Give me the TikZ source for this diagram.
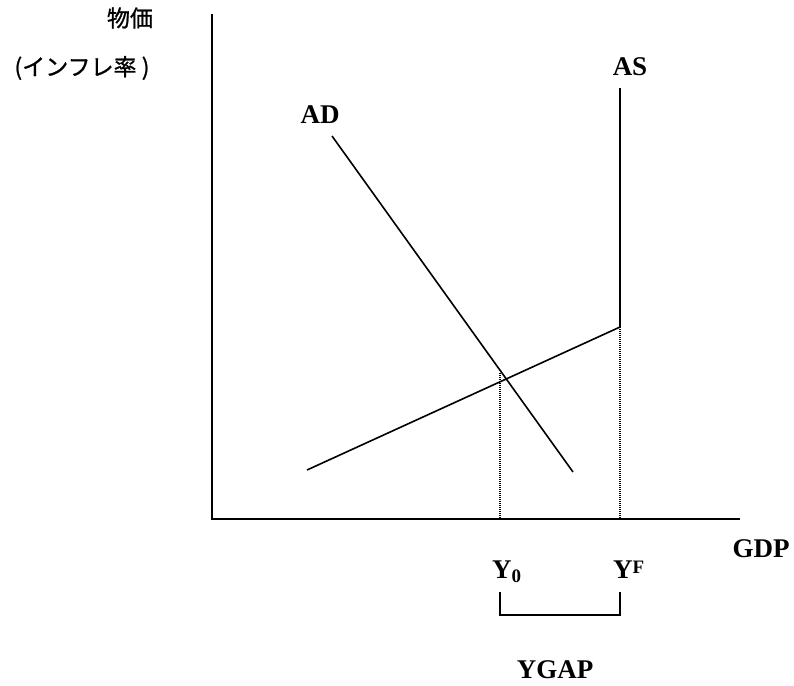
\documentclass[tikz,border=0pt]{standalone}
\usepackage{fontspec}
\setmainfont{Liberation Serif}
\newfontfamily\jpfont[FakeBold=1]{Noto Sans CJK JP}
\begin{document}
\begin{tikzpicture}[x=1pt,y=-1pt,
  axisline/.style={line width=2pt},
  curve/.style={line width=1.6pt},
  guide/.style={line width=1.2pt,dash pattern=on 1pt off 1pt},
  bracketline/.style={line width=1.7pt},
  lbl/.style={inner sep=0pt,font=\fontsize{27}{30}\selectfont\bfseries},
  jp/.style={inner sep=0pt,font=\fontsize{23}{26}\selectfont\jpfont}]
\useasboundingbox (0,0) rectangle (794,685);
% axes
\coordinate (ytop) at (212,14);
\coordinate (origin) at (212,519);
\coordinate (xend) at (740,519);
\draw[axisline] (ytop) -- (origin) -- (xend);
% AD curve
\coordinate (ad1) at (332,136);
\coordinate (ad2) at (573,472);
\draw[curve] (ad1) -- (ad2);
% AS curve
\coordinate (as1) at (307,470);
\coordinate (askink) at (620,327);
\coordinate (astop) at (620,88);
\draw[curve] (as1) -- (askink) -- (astop);
% dotted guides
\coordinate (y0top) at (500,373);
\coordinate (y0bot) at (500,519);
\coordinate (yfbot) at (620,519);
\draw[guide] (y0top) -- (y0bot);
\draw[guide] (askink) -- (yfbot);
% bracket
\coordinate (b1) at (500,592);
\coordinate (b2) at (500,615);
\coordinate (b3) at (620,615);
\coordinate (b4) at (620,592);
\draw[bracketline] (b1) -- (b2) -- (b3) -- (b4);
% labels
\node[jp] (price) at (130,18) {物価};
\node[jp] (infl) at (82,68) {(インフレ率 )};
\node[lbl,anchor=base] (AD) at (320,123) {AD};
\node[lbl,anchor=base] (AS) at (630,75) {AS};
\node[lbl,anchor=base] (GDP) at (761,557) {GDP};
\node[lbl,anchor=base west] (Y0) at (492,578) {Y\raisebox{-4pt}{\fontsize{19}{20}\selectfont 0}};
\node[lbl,anchor=base west] (YF) at (613,578) {Y\raisebox{5pt}{\fontsize{19}{20}\selectfont F}};
\node[lbl,anchor=base] (YGAP) at (555,678) {YGAP};
\end{tikzpicture}
\end{document}
